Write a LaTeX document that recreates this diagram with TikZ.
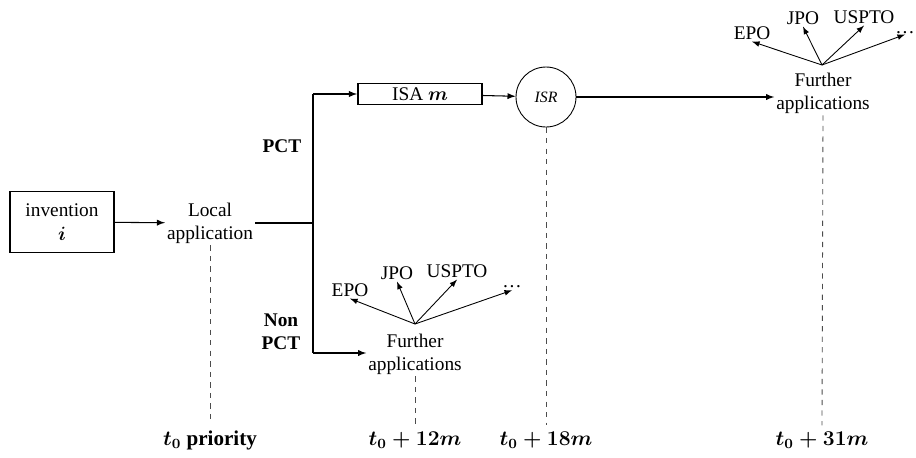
\documentclass[tikz,border=0pt]{standalone}
\usepackage{amsmath}
\usepackage{fontspec}
\setmainfont{Liberation Serif}
\usetikzlibrary{arrows}

\begin{document}
\begin{tikzpicture}[x=0.02cm,y=-0.02cm,font=\fontsize{11}{13}\selectfont,
  flow/.style={-latex,line width=0.6pt},
  fan/.style={-latex,line width=0.5pt},
  timeline/.style={dashed,line width=0.5pt,black!70},
  txt/.style={align=center,inner sep=1pt},
  stamp/.style={font=\fontsize{12}{14}\selectfont\bfseries\boldmath}]
  \useasboundingbox (0,0) rectangle (916,457);
  % main chain
  \node[draw,line width=1.1pt,minimum width=2.08cm,minimum height=1.22cm,align=center] (inv) at (62,222) {invention\\[1pt]$\boldsymbol{i}$};
  \node[txt] (local) at (210,223) {Local\\application};
  \coordinate (split) at (313,223);
  \coordinate (pcttop) at (313,94);
  \coordinate (pctbot) at (313,353);
  \node[draw,line width=1.1pt,minimum width=2.48cm,minimum height=0.42cm,inner sep=0pt] (isa) at (420,94) {ISA $\boldsymbol{m}$};
  \node[draw,circle,line width=0.5pt,minimum size=1.2cm,inner sep=0pt,font=\fontsize{9}{11}\selectfont\itshape] (isr) at (546,97) {ISR};
  \node[txt] (furtop) at (823,93) {Further\\applications};
  \node[txt] (furbot) at (415,354) {Further\\applications};
  \node[font=\fontsize{11}{13}\selectfont\bfseries] (pct) at (282,146) {PCT};
  \node[font=\fontsize{11}{13}\selectfont\bfseries,align=center,inner sep=1pt] (npct) at (281,332) {Non\\PCT};
  \draw[flow] (inv) -- (local);
  \draw[line width=0.6pt] (local.east) -- (split);
  \draw[line width=0.6pt] (pcttop) -- (pctbot);
  \draw[flow] (pcttop) -- (isa);
  \draw[flow] (isa) -- (isr);
  \draw[flow] (isr) -- (furtop.west |- isr);
  \draw[flow] (pctbot) -- (furbot.west |- pctbot);
  % offices, top
  \coordinate (fantop) at (822,65);
  \node[txt] (epot) at (752,33) {EPO};
  \node[txt] (jpot) at (803,18) {JPO};
  \node[txt] (usptot) at (864,17) {USPTO};
  \node[txt,inner sep=0pt] (dotst) at (905,33) {\dots};
  \draw[fan] (fantop) -- (epot.south);
  \draw[fan] (fantop) -- (jpot.south);
  \draw[fan] (fantop) -- (usptot.south);
  \draw[fan] (fantop) -- (dotst.south);
  % offices, bottom
  \coordinate (fanbot) at (415,324);
  \node[txt] (epob) at (350,290) {EPO};
  \node[txt] (jpob) at (397,273) {JPO};
  \node[txt] (usptob) at (457,271) {USPTO};
  \node[txt] (dotsb) at (512,287) {\dots};
  \draw[fan] (fanbot) -- (epob.south);
  \draw[fan] (fanbot) -- (jpob.south);
  \draw[fan] (fanbot) -- (usptob.south);
  \draw[fan] (fanbot) -- (dotsb.south);
  % time axis
  \node[stamp] (t0) at (210,440) {$t_0$ priority};
  \node[stamp] (t12) at (415,440) {$t_0+12m$};
  \node[stamp] (t18) at (546,440) {$t_0+18m$};
  \node[stamp] (t31) at (822,440) {$t_0+31m$};
  \draw[timeline] (local.south) -- (t0.north);
  \draw[timeline] (furbot.south) -- (t12.north);
  \draw[timeline] (isr.south) -- (t18.north);
  \draw[timeline] (furtop.south) -- (t31.north);
\end{tikzpicture}
\end{document}
